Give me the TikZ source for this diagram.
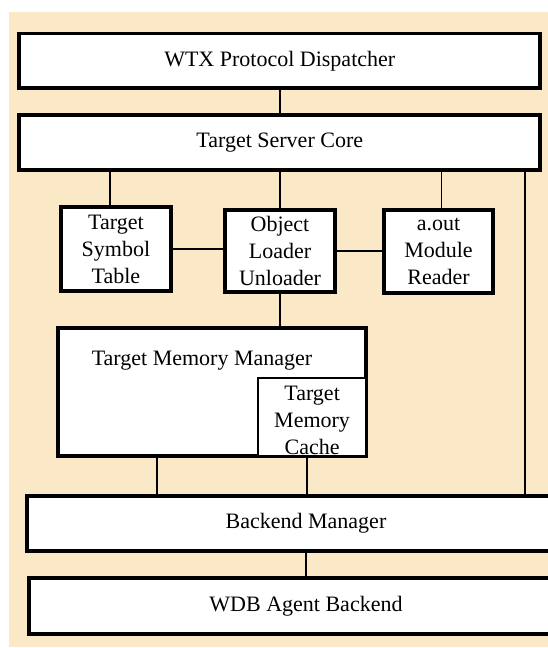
\documentclass[tikz,border=0pt]{standalone}
\usepackage{fontspec}
\setmainfont{Liberation Serif}
\definecolor{panel}{RGB}{250,232,198}
\begin{document}
\begin{tikzpicture}[x=1pt,y=1pt,
  txt/.style={font=\fontsize{22}{27}\selectfont,align=center},
  blk/.style={txt,draw=black,line width=3.6pt,fill=white,inner sep=0pt,outer sep=0pt},
  subblk/.style={draw=black,line width=1.8pt,fill=white,inner sep=0pt,outer sep=0pt},
  wire/.style={draw=black,line width=1.8pt}]
\clip (0,0) rectangle (548,648);
\fill[color=panel] (9,1) rectangle (548,636);
% boxes
\node[blk,minimum width=521pt,minimum height=54.75pt] (wtx) at (279.75,587.1) {WTX Protocol Dispatcher};
\node[blk,minimum width=521pt,minimum height=55.5pt] (core) at (279.75,505.5) {Target Server Core};
\node[blk,minimum width=110pt,minimum height=84.5pt] (sym) at (115.9,399) {Target\\Symbol\\Table};
\node[blk,minimum width=110.5pt,minimum height=82.5pt] (obj) at (280,397) {Object\\Loader\\Unloader};
\node[blk,minimum width=109.5pt,minimum height=83.5pt] (aout) at (438.5,396.5) {a.out\\Module\\Reader};
\node[blk,minimum width=308.5pt,minimum height=128.5pt,
  label={[txt,anchor=center,xshift=-10pt,yshift=-33pt]north:Target Memory Manager}] (tmm) at (212,256) {};
\node[subblk,minimum width=108.25pt,minimum height=78.25pt,
  label={[txt,anchor=center,yshift=-3pt]center:Target\\Memory\\Cache}] (cache) at (312.1,230.9) {};
\node[blk,minimum width=558.5pt,minimum height=55.5pt] (bem) at (306,124.5) {Backend Manager};
\node[blk,minimum width=554.5pt,minimum height=56.5pt] (wdb) at (306,42) {WDB Agent Backend};
% connectors
\draw[wire] (wtx.south) -- (core.north);
\draw[wire] ([xshift=-6pt]sym.north) -- ([xshift=-6pt]sym.north |- core.south);
\draw[wire] (obj.north) -- (obj.north |- core.south);
\draw[wire] ([xshift=3pt]aout.north) -- ([xshift=3pt]aout.north |- core.south);
\draw[wire] (sym.east) -- (sym.east -| obj.west);
\draw[wire] (obj.east) -- (obj.east -| aout.west);
\draw[wire] (obj.south) -- (obj.south |- tmm.north);
\draw[wire] ([xshift=-55pt]tmm.south) -- ([xshift=-55pt]tmm.south |- bem.north);
\draw[wire] ([xshift=-5pt]cache.south) -- ([xshift=-5pt]cache.south |- bem.north);
\draw[wire] ([xshift=-15pt]core.south east) -- ([xshift=-15pt]core.south east |- bem.north);
\draw[wire] (bem.south) -- (wdb.north);
\end{tikzpicture}
\end{document}
